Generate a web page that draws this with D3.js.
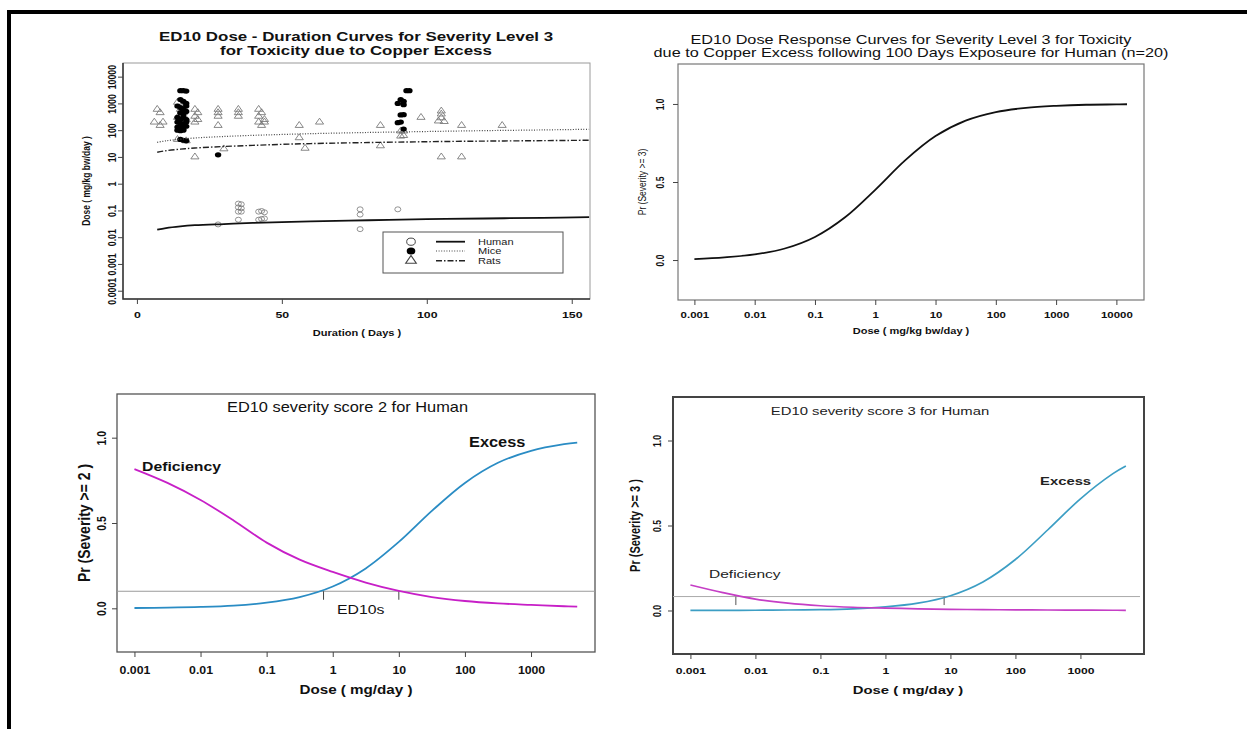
<!DOCTYPE html>
<html>
<head>
<meta charset="utf-8">
<script src="https://cdn.jsdelivr.net/npm/d3@7"></script>
<style>
  body { margin: 0; background: #fff; }
  svg { font-family: "Liberation Sans", Arial, sans-serif; }
</style>
</head>
<body>
<script>
// ---- top-left: dose-duration (observations + ED10 curves) ----
const humanObs = [[28,0.03],[35,0.18],[35,0.13],[35,0.09],[35,0.045],[36,0.17],[36,0.12],[36,0.09],
  [42,0.09],[43,0.095],[44,0.085],[42,0.045],[43,0.048],[44,0.05],[77,0.11],[77,0.07],[77,0.02],[90,0.11]];
const miceObs = [[15,3000],[16,3000],[17,2900],[15,1400],[16,1200],[17,1000],[14,800],[15,700],[16,600],
  [17,800],[15,450],[16,400],[17,500],[14,300],[15,250],[16,300],[17,250],[14,200],[15,180],[16,160],
  [17,200],[14,130],[15,120],[16,110],[17,140],[14,100],[15,95],[16,100],[15,45],[16,42],[17,40],[28,12],
  [93,3000],[94,3000],[91,1400],[92,1200],[90,1000],[92,900],[91,370],[92,380],[90,190],[91,200],[92,110]];
const ratObs = [[7,600],[8,450],[6,200],[9,200],[8,150],[14,1100],[15,600],[16,450],[16,700],[15,350],
  [14,300],[17,250],[15,180],[16,150],[14,45],[17,40],[20,600],[21,450],[20,330],[21,250],[20,200],[20,10],
  [28,600],[28,450],[28,330],[28,150],[30,20],[35,600],[35,450],[35,330],[42,600],[43,450],[42,330],
  [44,250],[42,200],[44,200],[43,150],[56,150],[56,52],[58,21],[63,200],[84,150],[84,26],[91,93],[92,93],
  [91,60],[92,63],[98,300],[105,520],[105,400],[105,290],[104,220],[106,210],[105,10],[112,150],[112,10],[126,150]];
const durationGrid = [7, 10, 15, 20, 30, 40, 50, 60, 80, 100, 120, 140, 156];
const humanED10 = [0.019, 0.022, 0.0255, 0.028, 0.031, 0.034, 0.0365, 0.039, 0.043, 0.047, 0.050, 0.053, 0.056];
const miceED10  = [35, 40, 46, 51, 58, 64, 69, 74, 82, 89, 96, 102, 108];
const ratED10   = [15, 17, 19.5, 21.5, 24.5, 27, 29.5, 31.5, 34.5, 37, 39, 40.5, 42];
const durationTicks = [0, 50, 100, 150];
const doseTicksTL = [10000, 1000, 100, 10, 1, 0.1, 0.01, 0.001, 0.0001];
const doseLabelsTL = ["10000", "1000", "100", "10", "1", "0.1", "0.01", "0.001", "0.0001"];
const speciesNames = ["Human", "Mice", "Rats"];

// ---- top-right: dose-response, human, 100 days ----
const doseTR = [0.001, 0.00316, 0.01, 0.0316, 0.1, 0.316, 1, 3.16, 10, 31.6, 100, 316, 1000, 3162, 10000, 15000];
const probTR = [0.006, 0.017, 0.036, 0.074, 0.148, 0.274, 0.45, 0.64, 0.794, 0.893, 0.948, 0.975, 0.988, 0.995, 0.997, 0.998];
const doseTicksTR = [0.001, 0.01, 0.1, 1, 10, 100, 1000, 10000];
const doseLabelsTR = ["0.001", "0.01", "0.1", "1", "10", "100", "1000", "10000"];
const probTicks = [0, 0.5, 1];
const probLabels = ["0.0", "0.5", "1.0"];

// ---- bottom-left: severity score 2 ----
const doseBL = [0.001, 0.00316, 0.01, 0.0316, 0.1, 0.316, 1, 3.16, 10, 31.6, 100, 316, 1000, 3162, 5000];
const excessBL     = [0.002, 0.004, 0.008, 0.016, 0.033, 0.066, 0.128, 0.234, 0.389, 0.571, 0.735, 0.853, 0.923, 0.962, 0.971];
const deficiencyBL = [0.816, 0.735, 0.635, 0.515, 0.385, 0.285, 0.213, 0.151, 0.102, 0.066, 0.043, 0.029, 0.02, 0.012, 0.01];
const ed10DosesBL = [0.726, 10];
const ed10LevelBL = 0.1;
const doseTicksB = [0.001, 0.01, 0.1, 1, 10, 100, 1000];
const doseLabelsB = ["0.001", "0.01", "0.1", "1", "10", "100", "1000"];

// ---- bottom-right: severity score 3 ----
const doseBR = [0.001, 0.00316, 0.01, 0.0316, 0.1, 0.316, 1, 3.16, 10, 31.6, 100, 316, 1000, 3162, 5000];
const excessBR     = [0.0005, 0.001, 0.0015, 0.003, 0.005, 0.01, 0.021, 0.043, 0.087, 0.168, 0.3, 0.475, 0.657, 0.805, 0.85];
const deficiencyBR = [0.15, 0.105, 0.067, 0.043, 0.028, 0.019, 0.014, 0.01, 0.007, 0.005, 0.004, 0.003, 0.002, 0.0015, 0.001];
const ed10DosesBR = [0.005, 8];
const ed10LevelBR = 0.082;

const W = 1247, H = 729;
const svg = d3.select("body").append("svg").attr("width", W).attr("height", H);

// outer frame (top and left edges visible)
svg.append("rect").attr("x", 7).attr("y", 10).attr("width", W).attr("height", 4).attr("fill", "#000");
svg.append("rect").attr("x", 7).attr("y", 10).attr("width", 4).attr("height", H).attr("fill", "#000");

// text helper: the panels were stretched horizontally, so glyphs get scaleX
function label(g, x, y, str, o) {
  return g.append("text")
    .attr("transform", `translate(${x},${y}) scale(${o.sx || 1},1)` + (o.rotate ? " rotate(-90)" : ""))
    .attr("text-anchor", o.anchor || "middle")
    .attr("dominant-baseline", "central")
    .attr("font-size", o.size)
    .attr("font-weight", o.bold ? "bold" : "normal")
    .attr("fill", o.fill || "#111")
    .text(str);
}

function bottomAxis(g, scale, P, ticks, labels, o) {
  const ax = g.append("g").attr("transform", `translate(0,${P.b})`)
    .call(d3.axisBottom(scale).tickValues(ticks).tickSize(5).tickFormat((d, i) => labels[i]));
  ax.select(".domain").remove();
  ax.attr("color", o.color || "#444");
  ax.selectAll("text")
    .attr("x", null).attr("y", null).attr("dy", null)
    .attr("dominant-baseline", "central")
    .attr("transform", `translate(0,${o.off}) scale(${P.sx},1)`)
    .attr("font-size", o.size).attr("font-weight", "bold")
    .attr("font-family", "Liberation Sans, Arial, sans-serif")
    .attr("fill", "#111");
  return ax;
}

function leftAxis(g, scale, P, ticks, labels, o) {
  const ax = g.append("g").attr("transform", `translate(${P.l},0)`)
    .call(d3.axisLeft(scale).tickValues(ticks).tickSize(5).tickFormat((d, i) => labels[i]));
  ax.select(".domain").remove();
  ax.attr("color", o.color || "#444");
  ax.selectAll("text")
    .attr("x", null).attr("y", null).attr("dy", null)
    .attr("dominant-baseline", "central")
    .attr("text-anchor", "middle")
    .attr("transform", `translate(${-o.off},0) scale(${P.sx},1) rotate(-90)`)
    .attr("font-size", o.size).attr("font-weight", "bold")
    .attr("font-family", "Liberation Sans, Arial, sans-serif")
    .attr("fill", "#111");
  return ax;
}

function box(g, P, stroke, width) {
  g.append("rect").attr("x", P.l).attr("y", P.t).attr("width", P.r - P.l).attr("height", P.b - P.t)
    .attr("fill", "none").attr("stroke", stroke).attr("stroke-width", width);
}

const curve = (x, y) => d3.line().x(d => x(d[0])).y(d => y(d[1])).curve(d3.curveCatmullRom.alpha(0.5));
const zip = (a, b) => a.map((v, i) => [v, b[i]]);

// ================= TOP-LEFT =================
{
  const P = { l: 123, r: 590, t: 63, b: 299, sx: 1.3 };
  const g = svg.append("g");
  const x = d3.scaleLinear().domain([-4.8, 156.3]).range([P.l, P.r]);
  const y = d3.scaleLog().domain([Math.pow(10, -4.31), Math.pow(10, 4.51)]).range([P.b, P.t]);

  box(g, P, "#9a9a9a", 1);
  g.append("path").attr("d", `M${P.l},${P.t}V${P.b}H${P.r}`).attr("fill", "none").attr("stroke", "#333").attr("stroke-width", 1.5);

  bottomAxis(g, x, P, durationTicks, durationTicks.map(String), { off: 16, size: 9.5 });
  leftAxis(g, y, P, doseTicksTL, doseLabelsTL, { off: 11, size: 8.8 });

  label(g, 357, 333, "Duration ( Days )", { size: 8.5, bold: true, sx: P.sx });
  label(g, 86, (P.t + P.b) / 2, "Dose ( mg/kg bw/day )", { size: 8.5, bold: true, sx: P.sx, rotate: true });
  label(g, 356, 36, "ED10 Dose - Duration Curves for Severity Level 3", { size: 13, bold: true, sx: P.sx });
  label(g, 356, 50, "for Toxicity due to Copper Excess", { size: 13, bold: true, sx: P.sx });

  // observations
  g.append("g").selectAll("ellipse").data(humanObs).join("ellipse")
    .attr("cx", d => x(d[0])).attr("cy", d => y(d[1])).attr("rx", 3).attr("ry", 2.5)
    .attr("fill", "none").attr("stroke", "#777").attr("stroke-width", 0.8);
  g.append("g").selectAll("path").data(ratObs).join("path")
    .attr("d", d3.symbol(d3.symbolTriangle, 20))
    .attr("transform", d => `translate(${x(d[0])},${y(d[1])}) scale(1.2,1)`)
    .attr("fill", "none").attr("stroke", "#777").attr("stroke-width", 0.8);
  g.append("g").selectAll("ellipse").data(miceObs).join("ellipse")
    .attr("cx", d => x(d[0])).attr("cy", d => y(d[1])).attr("rx", 3.2).attr("ry", 2.6)
    .attr("fill", "#000");

  // ED10 curves
  const styles = [
    { data: humanED10, dash: null, w: 1.8, c: "#111" },
    { data: miceED10, dash: "1,1.6", w: 1.2, c: "#444" },
    { data: ratED10, dash: "6,2,1.5,2", w: 1.4, c: "#222" }
  ];
  styles.forEach(s => {
    g.append("path").attr("d", curve(x, y)(zip(durationGrid, s.data)))
      .attr("fill", "none").attr("stroke", s.c).attr("stroke-width", s.w).attr("stroke-dasharray", s.dash);
  });

  // legend
  const lg = g.append("g");
  lg.append("rect").attr("x", 383).attr("y", 232).attr("width", 180).attr("height", 41)
    .attr("fill", "#fff").attr("stroke", "#555").attr("stroke-width", 1);
  const rowY = [241.7, 251, 260.7];
  speciesNames.forEach((name, i) => {
    if (i === 0) lg.append("ellipse").attr("cx", 411).attr("cy", rowY[i]).attr("rx", 4.3).attr("ry", 3.6).attr("fill", "none").attr("stroke", "#444");
    if (i === 1) lg.append("ellipse").attr("cx", 411).attr("cy", rowY[i]).attr("rx", 4.3).attr("ry", 3.6).attr("fill", "#000");
    if (i === 2) lg.append("path").attr("d", d3.symbol(d3.symbolTriangle, 34)).attr("transform", `translate(411,${rowY[i]}) scale(1.2,1)`).attr("fill", "none").attr("stroke", "#444");
    lg.append("line").attr("x1", 436).attr("x2", 465).attr("y1", rowY[i]).attr("y2", rowY[i])
      .attr("stroke", styles[i].c).attr("stroke-width", styles[i].w).attr("stroke-dasharray", styles[i].dash);
    label(lg, 478, rowY[i], name, { size: 8.5, sx: P.sx, anchor: "start", fill: "#222" });
  });
}

// ================= TOP-RIGHT =================
{
  const P = { l: 678, r: 1144, t: 64, b: 300, sx: 1.3 };
  const g = svg.append("g");
  const x = d3.scaleLog().domain([Math.pow(10, -3.272), Math.pow(10, 4.458)]).range([P.l, P.r]);
  const y = d3.scaleLinear().domain([-0.256, 1.256]).range([P.b, P.t]);

  box(g, P, "#777", 1.2);
  bottomAxis(g, x, P, doseTicksTR, doseLabelsTR, { off: 15, size: 8.8 });
  leftAxis(g, y, P, probTicks, probLabels, { off: 18, size: 8.5 });

  label(g, 911, 331, "Dose ( mg/kg bw/day )", { size: 8.5, bold: true, sx: P.sx });
  label(g, 642, (P.t + P.b) / 2, "Pr (Severity >= 3)", { size: 8.5, sx: P.sx, rotate: true });
  label(g, 911, 39.3, "ED10 Dose Response Curves for Severity Level 3 for Toxicity", { size: 12.5, sx: P.sx });
  label(g, 911, 52.7, "due to Copper Excess following 100 Days Exposeure for Human (n=20)", { size: 12.5, sx: P.sx });

  g.append("path").attr("d", curve(x, y)(zip(doseTR, probTR)))
    .attr("fill", "none").attr("stroke", "#111").attr("stroke-width", 1.8);
}

// ================= BOTTOM-LEFT =================
{
  const P = { l: 117, r: 595, t: 394, b: 652, sx: 1.17 };
  const g = svg.append("g");
  const x = d3.scaleLog().domain([Math.pow(10, -3.264), Math.pow(10, 3.968)]).range([P.l, P.r]);
  const y = d3.scaleLinear().domain([-0.256, 1.256]).range([P.b, P.t]);

  box(g, P, "#555", 1.3);
  bottomAxis(g, x, P, doseTicksB, doseLabelsB, { off: 18, size: 10.5 });
  leftAxis(g, y, P, probTicks, probLabels, { off: 15.6, size: 10.5 });

  label(g, 356, 689, "Dose ( mg/day )", { size: 13, bold: true, sx: P.sx });
  label(g, 84, (P.t + P.b) / 2, "Pr (Severity >= 2 )", { size: 14, bold: true, sx: P.sx, rotate: true });
  label(g, 347.5, 407, "ED10 severity score 2 for Human", { size: 14, sx: P.sx });

  g.append("line").attr("x1", P.l).attr("x2", P.r).attr("y1", y(ed10LevelBL)).attr("y2", y(ed10LevelBL))
    .attr("stroke", "#9a9a9a").attr("stroke-width", 1);
  ed10DosesBL.forEach(d => {
    g.append("line").attr("x1", x(d)).attr("x2", x(d)).attr("y1", y(ed10LevelBL)).attr("y2", y(ed10LevelBL) + 8.5)
      .attr("stroke", "#444").attr("stroke-width", 1);
  });
  label(g, 360.7, 609, "ED10s", { size: 13.5, sx: P.sx });

  g.append("path").attr("d", curve(x, y)(zip(doseBL, excessBL)))
    .attr("fill", "none").attr("stroke", "#2a8cc4").attr("stroke-width", 1.8);
  g.append("path").attr("d", curve(x, y)(zip(doseBL, deficiencyBL)))
    .attr("fill", "none").attr("stroke", "#c71fc7").attr("stroke-width", 1.8);

  label(g, 142, 466, "Deficiency", { size: 13.5, bold: true, sx: P.sx, anchor: "start" });
  label(g, 469, 442, "Excess", { size: 14, bold: true, sx: P.sx, anchor: "start" });
}

// ================= BOTTOM-RIGHT =================
{
  const P = { l: 673, r: 1144, t: 397, b: 654, sx: 1.35 };
  const g = svg.append("g");
  const x = d3.scaleLog().domain([Math.pow(10, -3.268), Math.pow(10, 3.978)]).range([P.l, P.r]);
  const y = d3.scaleLinear().domain([-0.256, 1.256]).range([P.b, P.t]);

  box(g, P, "#444", 2);
  bottomAxis(g, x, P, doseTicksB, doseLabelsB, { off: 16.7, size: 9 });
  leftAxis(g, y, P, probTicks, probLabels, { off: 16.2, size: 8.6 });

  label(g, 908, 690, "Dose ( mg/day )", { size: 11, bold: true, sx: P.sx });
  label(g, 635, (P.t + P.b) / 2, "Pr (Severity >= 3 )", { size: 11, bold: true, sx: P.sx, rotate: true });
  label(g, 880, 411, "ED10 severity score 3 for Human", { size: 11, sx: P.sx, fill: "#222" });

  g.append("line").attr("x1", P.l).attr("x2", P.r - 4).attr("y1", y(ed10LevelBR)).attr("y2", y(ed10LevelBR))
    .attr("stroke", "#aaa").attr("stroke-width", 1);
  ed10DosesBR.forEach(d => {
    g.append("line").attr("x1", x(d)).attr("x2", x(d)).attr("y1", y(ed10LevelBR)).attr("y2", y(ed10LevelBR) + 8.5)
      .attr("stroke", "#555").attr("stroke-width", 1);
  });

  g.append("path").attr("d", curve(x, y)(zip(doseBR, excessBR)))
    .attr("fill", "none").attr("stroke", "#3c9ec4").attr("stroke-width", 1.7);
  g.append("path").attr("d", curve(x, y)(zip(doseBR, deficiencyBR)))
    .attr("fill", "none").attr("stroke", "#c53ec5").attr("stroke-width", 1.7);

  label(g, 709, 574, "Deficiency", { size: 11.5, sx: P.sx, anchor: "start", fill: "#222" });
  label(g, 1040, 481, "Excess", { size: 11, bold: true, sx: P.sx, anchor: "start", fill: "#222" });
}
</script>
</body>
</html>
